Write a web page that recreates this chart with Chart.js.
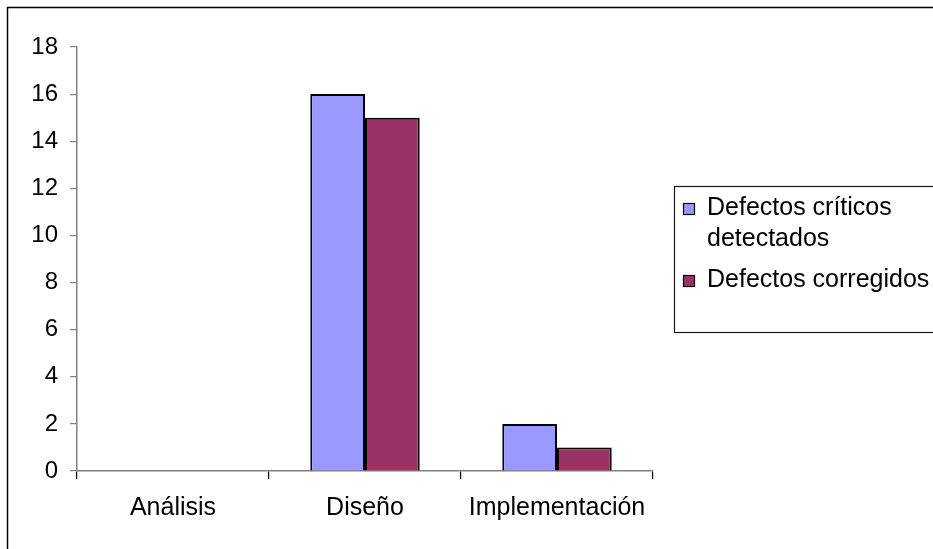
<!DOCTYPE html>
<html>
<head>
<meta charset="utf-8">
<title>Defectos críticos por fase</title>
<script src="https://cdn.jsdelivr.net/npm/chart.js@4/dist/chart.umd.min.js"></script>
<style>
  html, body { margin: 0; padding: 0; background: #ffffff; }
  #wrap { position: relative; width: 933px; height: 549px; overflow: hidden; }
  canvas { display: block; }
</style>
</head>
<body>
<div id="wrap"><canvas id="chart" width="933" height="549"></canvas></div>
<script>
// Fases del proyecto y valores por serie
const categories = ['Análisis', 'Diseño', 'Implementación'];
const detectados = [0, 16, 2];
const corregidos = [0, 15, 1];
const seriesNames = ['Defectos críticos detectados', 'Defectos corregidos'];
// Texto de la leyenda, partido en líneas
const legendLines = [['Defectos críticos', 'detectados'], ['Defectos corregidos']];
const yMin = 0;
const yMax = 18;
const yStep = 2;

const FONT = "'Liberation Sans', Arial, Helvetica, sans-serif";
Chart.defaults.font.family = FONT;
Chart.defaults.color = '#000000';

// Marco exterior y leyenda enmarcada a la derecha
const frameLegend = {
  id: 'frameLegend',
  afterDraw(chart) {
    const ctx = chart.ctx;
    ctx.save();
    ctx.strokeStyle = '#000000';
    ctx.lineWidth = 1.5;
    ctx.strokeRect(7.5, 7.5, 960, 580);

    ctx.lineWidth = 1.2;
    ctx.strokeStyle = '#1a1a1a';
    ctx.strokeRect(674.5, 186.5, 300, 146);

    ctx.font = '25px ' + FONT;
    ctx.textBaseline = 'alphabetic';
    ctx.textAlign = 'left';
    let baseline = 215;
    chart.data.datasets.forEach((ds, i) => {
      const lines = legendLines[i];
      ctx.fillStyle = ds.backgroundColor;
      ctx.fillRect(683.5, baseline - 11.5, 11, 11);
      ctx.strokeStyle = '#000000';
      ctx.lineWidth = 1.2;
      ctx.strokeRect(683.5, baseline - 11.5, 11, 11);
      ctx.fillStyle = '#000000';
      lines.forEach((t, k) => {
        ctx.fillText(t, 707, baseline + k * 31);
      });
      baseline += (lines.length - 1) * 31 + 41;
    });
    ctx.restore();
  }
};

new Chart(document.getElementById('chart'), {
  type: 'bar',
  data: {
    labels: categories,
    datasets: [
      {
        label: seriesNames[0],
        data: detectados,
        backgroundColor: '#9999FF',
        borderColor: '#000000',
        borderWidth: c => (c.raw === 0 ? 0 : 2)
      },
      {
        label: seriesNames[1],
        data: corregidos,
        backgroundColor: '#993366',
        borderColor: '#000000',
        borderWidth: c => (c.raw === 0 ? 0 : 2)
      }
    ]
  },
  options: {
    responsive: false,
    animation: false,
    devicePixelRatio: 1,
    layout: { padding: { top: 47, right: 280, left: 0, bottom: 0 } },
    datasets: { bar: { categoryPercentage: 0.57, barPercentage: 1.0 } },
    plugins: {
      legend: { display: false },
      tooltip: { enabled: false },
      title: { display: false }
    },
    scales: {
      x: {
        offset: true,
        grid: {
          display: true,
          offset: true,
          drawOnChartArea: false,
          drawTicks: true,
          tickLength: 8,
          color: '#000000',
          lineWidth: 1.2
        },
        border: { display: true, color: '#808080', width: 1.5 },
        ticks: { font: { size: 25 }, color: '#000000', padding: 14, maxRotation: 0 },
        afterFit: s => { s.height = 78; }
      },
      y: {
        min: yMin,
        max: yMax,
        grid: {
          display: true,
          drawOnChartArea: false,
          drawTicks: true,
          tickLength: 7,
          color: '#808080',
          lineWidth: 1.2
        },
        border: { display: true, color: '#808080', width: 1.5 },
        ticks: { stepSize: yStep, font: { size: 24 }, color: '#000000', padding: 12 },
        afterFit: s => { s.width = 77; }
      }
    }
  },
  plugins: [frameLegend]
});
</script>
</body>
</html>
